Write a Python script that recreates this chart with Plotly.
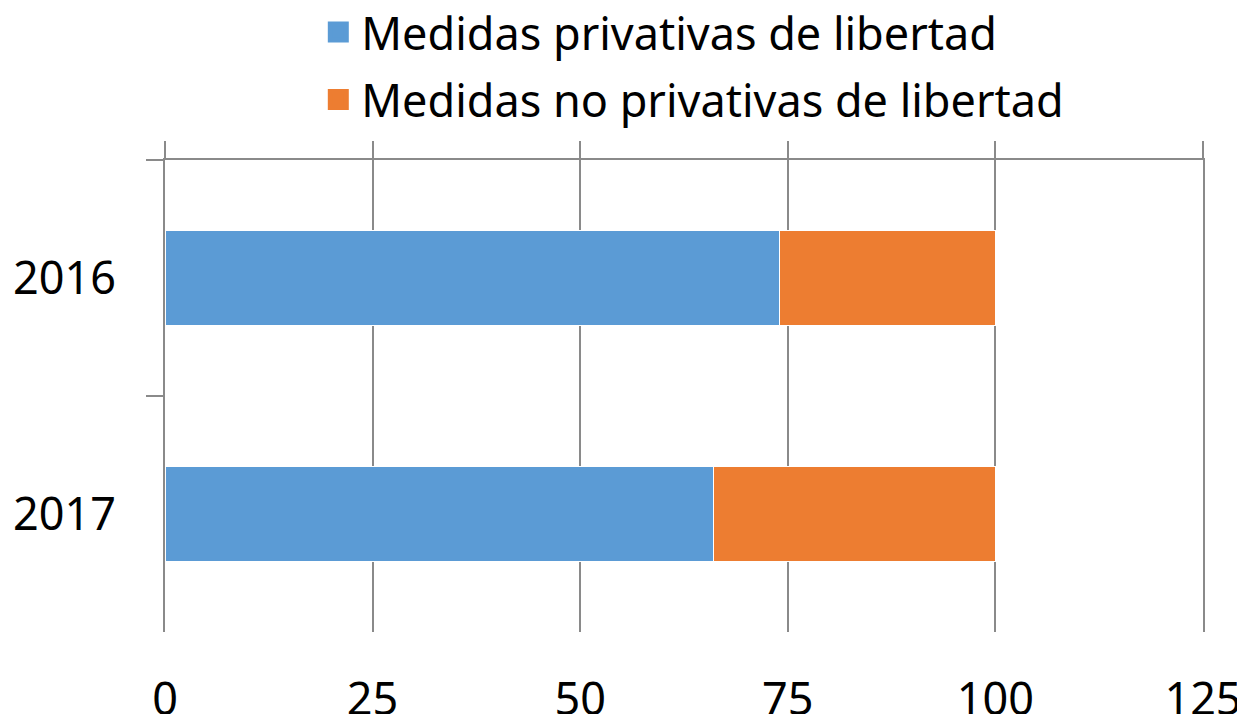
import plotly.graph_objects as go

years = ["2016", "2017"]
privativas = [74, 66]
no_privativas = [26, 34]
series_names = ["Medidas privativas de libertad", "Medidas no privativas de libertad"]
series_colors = ["#5B9BD5", "#ED7D31"]
x_ticks = [0, 25, 50, 75, 100, 125]

GRID = "#8a8a8a"
FONT = "Noto Sans, Open Sans, sans-serif"

fig = go.Figure()
for name, vals, color in zip(series_names, [privativas, no_privativas], series_colors):
    fig.add_trace(go.Bar(
        y=years, x=vals, name=name, orientation="h", legendgroup=name, showlegend=False,
        marker=dict(color=color, line=dict(color="white", width=1)),
    ))
    # legend proxy with a bigger square; it also carries the top axis (x2)
    fig.add_trace(go.Scatter(
        x=[None], y=[None], name=name, mode="markers", legendgroup=name, xaxis="x2",
        marker=dict(symbol="square", size=16, color=color, line=dict(color=color, width=5)),
        hoverinfo="skip",
    ))

fig.update_layout(
    width=1229, height=706,
    barmode="stack", bargap=0.6,
    plot_bgcolor="white", paper_bgcolor="white",
    font=dict(family=FONT, size=45, color="black"),
    margin=dict(l=157, r=34, t=152, b=82, autoexpand=False),
    legend=dict(orientation="v", x=0.508, xanchor="center", y=1.347, yanchor="top",
                yref="paper", font=dict(size=45), traceorder="grouped",
                tracegroupgap=6, itemwidth=36),
    xaxis=dict(range=[0, 125], tickvals=x_ticks, showgrid=True, gridcolor=GRID, gridwidth=2,
               zeroline=False, showline=False, ticks="", ticklabelstandoff=37,
               ticklabeloverflow="allow", automargin=False),
    xaxis2=dict(range=[0, 125], tickvals=x_ticks, overlaying="x", side="top", anchor="y",
                showgrid=False, zeroline=False, showline=True, linecolor=GRID, linewidth=2,
                ticks="outside", ticklen=17, tickwidth=2, tickcolor=GRID,
                showticklabels=False, automargin=False),
    yaxis=dict(categoryorder="array", categoryarray=years, autorange="reversed",
               showline=True, mirror=True, linecolor=GRID, linewidth=2, showgrid=False,
               ticks="outside", tickson="boundaries", ticklen=17, tickwidth=2, tickcolor=GRID,
               ticklabelstandoff=38, automargin=False),
)

fig.write_html("out.html")
